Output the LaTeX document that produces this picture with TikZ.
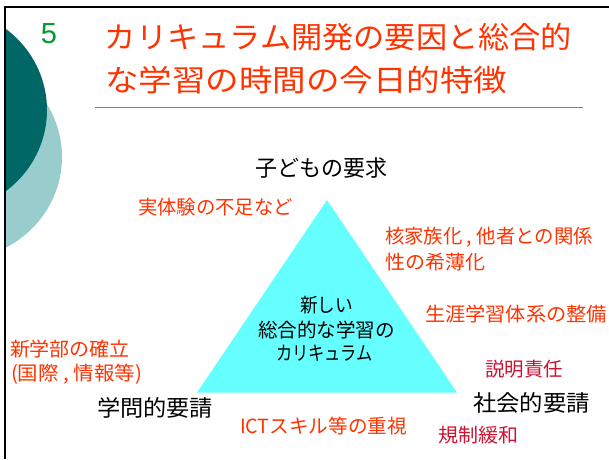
\documentclass[tikz,border=0pt]{standalone}
\usepackage{fontspec}
\setmainfont{Noto Sans CJK JP}
\newfontfamily\arialfont{Liberation Sans}
\usepackage{graphicx}
\definecolor{titlered}{HTML}{FF3300}
\definecolor{labred}{HTML}{FF3300}
\definecolor{darkred}{HTML}{CC1133}
\definecolor{tealdark}{HTML}{006666}
\definecolor{teallight}{HTML}{99CCCC}
\definecolor{tricyan}{HTML}{66FFFF}
\definecolor{numgreen}{HTML}{009933}
\definecolor{rulegray}{HTML}{808080}
\newcommand\fitw[2]{\resizebox{#1pt}{\height}{#2}}
\begin{document}
\begin{tikzpicture}[x=1pt,y=-1pt,
  lbl/.style={inner sep=0pt, outer sep=0pt, anchor=center},
  redlbl/.style={lbl, text=labred, font=\fontsize{19.5}{22}\selectfont},
  dredlbl/.style={lbl, text=darkred, font=\fontsize{19.5}{22}\selectfont},
  blklbl/.style={lbl, text=black, font=\fontsize{22.5}{26}\selectfont},
  trilbl/.style={lbl, text=black, font=\fontsize{19.5}{22}\selectfont},
  titlelbl/.style={lbl, text=titlered, font=\fontsize{30}{34}\selectfont}]
\useasboundingbox (0,0) rectangle (609,459);
\fill[white] (0,0) rectangle (609,459);
% decorative circles
\begin{scope}
  \clip (4.5,7) rectangle (609,459);
  \fill[teallight] (-45,157) ellipse [x radius=107, y radius=103];
  \fill[tealdark] (-60,110) ellipse [x radius=107, y radius=103];
\end{scope}
% frame
\draw[line width=2pt] (4.5,459) -- (4.5,7) -- (609,7);
% number and title
\node[lbl, text=numgreen, font=\arialfont\fontsize{29}{32}\selectfont] (num) at (49,34) {5};
\node[titlelbl] (title1) at (338.5,37.5) {\fitw{467}{カリキュラム開発の要因と総合的}};
\node[titlelbl] (title2) at (306,80) {\fitw{402}{な学習の時間の今日的特徴}};
\coordinate (ruleL) at (95,107.5);
\coordinate (ruleR) at (583,107.5);
\draw[rulegray, line width=1.5pt] (ruleL) -- (ruleR);
% triangle
\coordinate (apex) at (327,200);
\coordinate (baseL) at (197,392.5);
\coordinate (baseR) at (457,392.5);
\fill[tricyan] (apex) -- (baseL) -- (baseR) -- cycle;
\node[trilbl] (tri1) at (326.5,305) {\fitw{53}{新しい}};
\node[trilbl] (tri2) at (326.5,330) {\fitw{137}{総合的な学習の}};
\node[trilbl] (tri3) at (324.5,353) {\fitw{97}{カリキュラム}};
% black labels
\node[blklbl] (child) at (321,168) {\fitw{132}{子どもの要求}};
\node[blklbl] (acad) at (155,408) {\fitw{116}{学問的要請}};
\node[blklbl] (soc) at (531.5,403) {\fitw{117}{社会的要請}};
% red labels
\node[redlbl] (exp) at (215.5,207) {\fitw{155}{実体験の不足など}};
\node[redlbl, anchor=west] (fam1) at (385,237) {\fitw{208}{核家族化 , 他者との関係}};
\node[redlbl, anchor=west] (fam2) at (385,262) {\fitw{100}{性の希薄化}};
\node[redlbl] (life) at (516,314) {\fitw{182}{生涯学習体系の整備}};
\node[redlbl, anchor=west] (fac1) at (10,349) {\fitw{120}{新学部の確立}};
\node[redlbl, anchor=west] (fac2) at (11,374) {\fitw{131}{(国際 , 情報等)}};
\node[redlbl] (ict) at (323.5,426) {\fitw{167}{ICTスキル等の重視}};
\node[dredlbl] (acc) at (524,369) {\fitw{78}{説明責任}};
\node[dredlbl] (dereg) at (478,435) {\fitw{80}{規制緩和}};
\end{tikzpicture}
\end{document}
